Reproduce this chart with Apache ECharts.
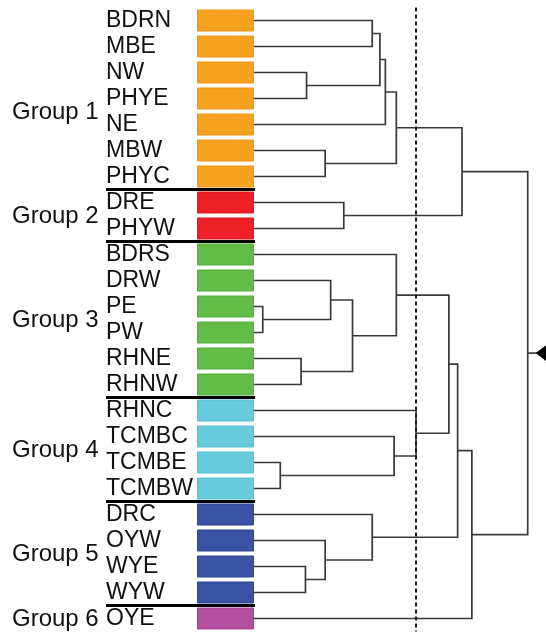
<!DOCTYPE html>
<html>
<head>
<meta charset="utf-8">
<script src="https://cdn.jsdelivr.net/npm/echarts@6/dist/echarts.min.js"></script>
<style>
html, body { margin: 0; padding: 0; background: #fff; }
#chart { width: 546px; height: 632px; }
</style>
</head>
<body>
<div id="chart"></div>
<script>
// leaves, top to bottom
const leaves = ['BDRN', 'MBE', 'NW', 'PHYE', 'NE', 'MBW', 'PHYC', 'DRE', 'PHYW', 'BDRS', 'DRW', 'PE',
  'PW', 'RHNE', 'RHNW', 'RHNC', 'TCMBC', 'TCMBE', 'TCMBW', 'DRC', 'OYW', 'WYE', 'WYW', 'OYE'];
const leafGroups = [1, 1, 1, 1, 1, 1, 1, 2, 2, 3, 3, 3, 3, 3, 3, 4, 4, 4, 4, 5, 5, 5, 5, 6];
const groupNames = ['Group 1', 'Group 2', 'Group 3', 'Group 4', 'Group 5', 'Group 6'];
const groupLabelRows = [3.5, 7.5, 11.5, 16.5, 20.5, 23];

// linkage: node 24 + k joins mergeLeft[k] and mergeRight[k] at mergeHeights[k] (rescaled distance)
const mergeLeft = [11, 17, 13, 21, 2, 5, 20, 10, 7, 31, 0, 19, 34, 36, 16, 37, 9, 15, 40, 42, 39, 43, 44];
const mergeRight = [12, 18, 14, 22, 3, 6, 27, 24, 8, 26, 1, 30, 28, 4, 25, 29, 33, 38, 41, 35, 32, 23, 45];
const mergeHeights = [0.8, 2.4, 4.3, 4.7, 4.8, 6.5, 6.5, 7.0, 8.2, 9.0, 10.8, 10.8, 11.5, 12.0, 12.8, 13.0,
  13.0, 14.8, 17.8, 18.6, 19.0, 19.9, 25.0];
const cutHeight = 14.8;
const maxHeight = 25;

const groupColors = ['#f6a21e', '#ed1f27', '#63bb48', '#67cbdc', '#3a52a3', '#b34f9f'];
const groupBorders = ['#ee9416', '#de1820', '#52b03c', '#52c0d4', '#2f4596', '#a3428f'];
const inkColor = '#3a3a3a';
const fontFamily = '"Liberation Sans", Arial, sans-serif';

const nodeX = leaves.map(() => 0);
const nodeY = leaves.map((_, i) => i);
mergeLeft.forEach((l, k) => {
  const r = mergeRight[k];
  nodeX.push(mergeHeights[k]);
  nodeY.push((nodeY[l] + nodeY[r]) / 2);
});

const links = mergeLeft.map((l, k) => {
  const r = mergeRight[k];
  return [nodeX[l], nodeY[l], nodeX[r], nodeY[r], mergeHeights[k]];
});
const rootY = nodeY[nodeY.length - 1];

const boundaries = [];
for (let i = 1; i < leafGroups.length; i++) {
  if (leafGroups[i] !== leafGroups[i - 1]) boundaries.push([0, i - 0.5]);
}

function renderLink(params, api) {
  const a = api.coord([api.value(0), api.value(1)]);
  const b = api.coord([api.value(2), api.value(3)]);
  const px = api.coord([api.value(4), 0])[0];
  return {
    type: 'polyline',
    shape: { points: [a, [px, a[1]], [px, b[1]], b] },
    style: { fill: null, stroke: inkColor, lineWidth: 1.7 },
  };
}

function renderCut(params, api) {
  const top = api.coord([api.value(0), -0.5]);
  const bottom = api.coord([api.value(0), 23.5]);
  return {
    type: 'line',
    shape: { x1: top[0], y1: top[1], x2: bottom[0], y2: bottom[1] },
    style: { stroke: '#1a1a1a', lineWidth: 2, lineDash: [4, 3] },
  };
}

function renderRoot(params, api) {
  const p = api.coord([api.value(0), api.value(1)]);
  return {
    type: 'group',
    children: [
      {
        type: 'line',
        shape: { x1: p[0], y1: p[1], x2: p[0] + 10, y2: p[1] },
        style: { stroke: inkColor, lineWidth: 1.7 },
      },
      {
        type: 'polygon',
        shape: { points: [[p[0] + 8, p[1]], [p[0] + 19, p[1] - 8.5], [p[0] + 19, p[1] + 8.5]] },
        style: { fill: '#000' },
      },
    ],
  };
}

function renderSeparator(params, api) {
  const y = api.coord([0, api.value(1)])[1];
  const cs = params.coordSys;
  return {
    type: 'line',
    shape: { x1: cs.x - 91, y1: y, x2: cs.x + cs.width + 1, y2: y },
    style: { stroke: '#000', lineWidth: 3 },
  };
}

function renderGroupLabel(params, api) {
  const y = api.coord([0, api.value(1)])[1];
  return {
    type: 'text',
    style: {
      text: groupNames[params.dataIndex],
      x: 12,
      y: y + 1,
      verticalAlign: 'middle',
      fontSize: 24,
      fontFamily: fontFamily,
      fill: '#111',
    },
  };
}

const chart = echarts.init(document.getElementById('chart'));
chart.setOption({
  animation: false,
  grid: [
    { left: 197, top: 7.5, width: 57, height: 624 },
    { left: 254, top: 7.5, width: 273.7, height: 624 },
  ],
  xAxis: [
    { type: 'value', gridIndex: 0, min: 0, max: 1, show: false },
    { type: 'value', gridIndex: 1, min: 0, max: maxHeight, show: false },
  ],
  yAxis: [
    {
      type: 'category',
      gridIndex: 0,
      data: leaves,
      inverse: true,
      axisLine: { show: false },
      axisTick: { show: false },
      axisLabel: {
        interval: 0,
        margin: 91,
        align: 'left',
        fontSize: 23,
        fontFamily: fontFamily,
        color: '#111',
        padding: [2, 0, 0, 0],
      },
    },
    { type: 'value', gridIndex: 0, min: -0.5, max: 23.5, inverse: true, show: false, position: 'right' },
    { type: 'value', gridIndex: 1, min: -0.5, max: 23.5, inverse: true, show: false },
  ],
  series: [
    {
      type: 'bar',
      xAxisIndex: 0,
      yAxisIndex: 0,
      barWidth: 22,
      silent: true,
      data: leafGroups.map((g) => ({
        value: 1,
        itemStyle: { color: groupColors[g - 1], borderColor: groupBorders[g - 1], borderWidth: 1 },
      })),
    },
    {
      type: 'custom',
      xAxisIndex: 0,
      yAxisIndex: 1,
      silent: true,
      renderItem: renderSeparator,
      data: boundaries,
    },
    {
      type: 'custom',
      xAxisIndex: 0,
      yAxisIndex: 1,
      silent: true,
      renderItem: renderGroupLabel,
      data: groupLabelRows.map((r) => [0, r]),
    },
    {
      type: 'custom',
      xAxisIndex: 1,
      yAxisIndex: 2,
      silent: true,
      renderItem: renderLink,
      encode: { x: [0, 2, 4], y: [1, 3] },
      data: links,
    },
    {
      type: 'custom',
      xAxisIndex: 1,
      yAxisIndex: 2,
      silent: true,
      renderItem: renderCut,
      data: [[cutHeight, 0]],
    },
    {
      type: 'custom',
      xAxisIndex: 1,
      yAxisIndex: 2,
      silent: true,
      renderItem: renderRoot,
      data: [[maxHeight, rootY]],
    },
  ],
});
</script>
</body>
</html>
